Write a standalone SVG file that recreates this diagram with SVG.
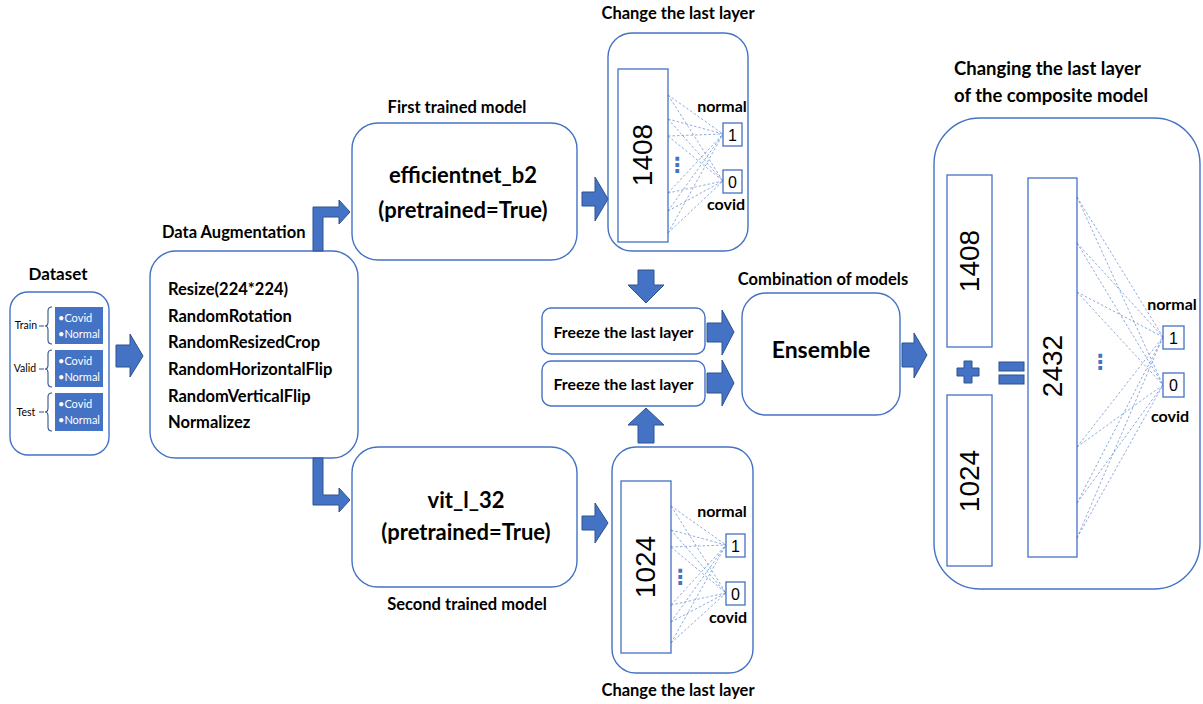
<svg xmlns="http://www.w3.org/2000/svg" width="1203" height="704" viewBox="0 0 1203 704">
  <defs>
    <style>
      .box { fill: #ffffff; stroke: #4472C4; stroke-width: 1.4; }
      .rect { fill: #ffffff; stroke: #4472C4; stroke-width: 1.3; }
      .arrow { fill: #4472C4; stroke: #2F528F; stroke-width: 1; }
      .link { stroke: #4472C4; stroke-width: 0.7; stroke-dasharray: 2.5 2; fill: none; opacity: 0.85; }
      .brace { stroke: #2F528F; stroke-width: 1.1; fill: none; }
      .t { font-family: Lato, "Liberation Sans", sans-serif; font-weight: bold; fill: #000000; }
      .num { font-family: "Liberation Sans", Arial, sans-serif; fill: #000000; }
      .dots { font-family: "DejaVu Sans", sans-serif; font-weight: bold; fill: #4472C4; }
      .wh { font-family: Lato, "Liberation Sans", sans-serif; fill: #ffffff; font-size: 11px; }
      .lbl { font-family: Lato, "Liberation Sans", sans-serif; fill: #000000; font-size: 10.5px; }
    </style>
  </defs>

  <rect width="1203" height="704" fill="#ffffff"/>

  <!-- Dataset -->
  <g id="dataset">
    <text class="t" x="58" y="280" font-size="17" text-anchor="middle">Dataset</text>
    <rect class="box" x="10" y="292" width="99" height="163" rx="18"/>
    <rect x="55" y="307" width="48" height="37" fill="#4472C4"/>
    <rect x="55" y="350" width="48" height="37" fill="#4472C4"/>
    <rect x="55" y="393" width="48" height="38" fill="#4472C4"/>
    <text class="wh" x="58" y="322">•Covid</text>
    <text class="wh" x="58" y="338">•Normal</text>
    <text class="wh" x="58" y="365">•Covid</text>
    <text class="wh" x="58" y="381">•Normal</text>
    <text class="wh" x="58" y="408">•Covid</text>
    <text class="wh" x="58" y="424">•Normal</text>
    <text class="lbl" x="26" y="329" text-anchor="middle">Train</text>
    <text class="lbl" x="25" y="372" text-anchor="middle">Valid</text>
    <text class="lbl" x="26" y="416" text-anchor="middle">Test</text>
    <path class="brace" d="M39 326 H44 M52 307 Q48 307 48 311 V322 Q48 326 45 326 Q48 326 48 330 V340 Q48 344 52 344"/>
    <path class="brace" d="M39 369 H44 M52 350 Q48 350 48 354 V365 Q48 369 45 369 Q48 369 48 373 V383 Q48 387 52 387"/>
    <path class="brace" d="M39 412 H44 M52 393 Q48 393 48 397 V408 Q48 412 45 412 Q48 412 48 416 V427 Q48 431 52 431"/>
  </g>

  <!-- Data augmentation -->
  <g id="augmentation">
    <text class="t" x="162" y="238" font-size="16.5">Data Augmentation</text>
    <rect class="box" x="150" y="251" width="208" height="207" rx="26"/>
    <text class="t" x="168" y="295" font-size="16.5">Resize(224*224)</text>
    <text class="t" x="168" y="322" font-size="16.5">RandomRotation</text>
    <text class="t" x="168" y="348" font-size="16.5">RandomResizedCrop</text>
    <text class="t" x="168" y="375" font-size="16.5">RandomHorizontalFlip</text>
    <text class="t" x="168" y="402" font-size="16.5">RandomVerticalFlip</text>
    <text class="t" x="168" y="428" font-size="16.5">Normalizez</text>
  </g>

  <!-- First model -->
  <g id="efficientnet">
    <text class="t" x="457" y="113" font-size="16.5" text-anchor="middle">First trained model</text>
    <rect class="box" x="352" y="123" width="225" height="137" rx="26"/>
    <text class="t" x="463" y="183" font-size="22" text-anchor="middle">efficientnet_b2</text>
    <text class="t" x="463" y="218" font-size="22" text-anchor="middle">(pretrained=True)</text>
  </g>

  <!-- Second model -->
  <g id="vit">
    <rect class="box" x="352" y="447" width="225" height="140" rx="26"/>
    <text class="t" x="466" y="508" font-size="22" text-anchor="middle">vit_l_32</text>
    <text class="t" x="466" y="540" font-size="22" text-anchor="middle">(pretrained=True)</text>
    <text class="t" x="467" y="610" font-size="16.5" text-anchor="middle">Second trained model</text>
  </g>

  <!-- Last layer of the first model -->
  <g id="head-top">
    <text class="t" x="678" y="19" font-size="16.5" text-anchor="middle">Change the last layer</text>
    <rect class="box" x="608" y="33" width="140" height="218" rx="24"/>
    <rect class="rect" x="618" y="69" width="50" height="173"/>
    <text class="num" transform="translate(652 155) rotate(-90)" font-size="28" text-anchor="middle">1408</text>
    <text class="dots" x="677" y="172" font-size="21" text-anchor="middle">⋮</text>
    <text class="t" x="722" y="112" font-size="16" text-anchor="middle">normal</text>
    <rect class="rect" x="723" y="123" width="19" height="23"/>
    <text class="num" x="732.5" y="141" font-size="16" text-anchor="middle">1</text>
    <rect class="rect" x="723" y="170" width="19" height="23"/>
    <text class="num" x="732.5" y="188" font-size="16" text-anchor="middle">0</text>
    <text class="t" x="726" y="210" font-size="16" text-anchor="middle">covid</text>
  </g>

  <!-- Last layer of the second model -->
  <g id="head-bottom">
    <rect class="box" x="612" y="447" width="141" height="226" rx="24"/>
    <rect class="rect" x="621" y="481" width="50" height="172"/>
    <text class="num" transform="translate(655 567) rotate(-90)" font-size="28" text-anchor="middle">1024</text>
    <text class="dots" x="680" y="584" font-size="21" text-anchor="middle">⋮</text>
    <text class="t" x="722" y="517" font-size="16" text-anchor="middle">normal</text>
    <rect class="rect" x="726" y="534" width="19" height="23"/>
    <text class="num" x="735.5" y="552" font-size="16" text-anchor="middle">1</text>
    <rect class="rect" x="726" y="582" width="19" height="23"/>
    <text class="num" x="735.5" y="600" font-size="16" text-anchor="middle">0</text>
    <text class="t" x="728" y="623" font-size="16" text-anchor="middle">covid</text>
    <text class="t" x="678" y="696" font-size="16.5" text-anchor="middle">Change the last layer</text>
  </g>

  <!-- Frozen layers -->
  <g id="freeze-1">
    <rect class="box" x="542" y="308" width="163" height="46" rx="9"/>
    <text class="t" x="623.5" y="338" font-size="15.8" text-anchor="middle">Freeze the last layer</text>
  </g>
  <g id="freeze-2">
    <rect class="box" x="542" y="361" width="163" height="45" rx="9"/>
    <text class="t" x="623.5" y="390" font-size="15.8" text-anchor="middle">Freeze the last layer</text>
  </g>

  <!-- Ensemble -->
  <g id="ensemble">
    <text class="t" x="823" y="285" font-size="16.5" text-anchor="middle">Combination of models</text>
    <rect class="box" x="742" y="293" width="158" height="122" rx="24"/>
    <text class="t" x="821" y="358" font-size="23" text-anchor="middle">Ensemble</text>
  </g>

  <!-- Composite model -->
  <g id="composite">
    <text class="t" x="954" y="75" font-size="18.5">Changing the last layer</text>
    <text class="t" x="954" y="102" font-size="18.5">of the composite model</text>
    <rect class="box" x="934" y="118" width="266" height="471" rx="46"/>
    <rect class="rect" x="947" y="175" width="45" height="172"/>
    <text class="num" transform="translate(979 261) rotate(-90)" font-size="28" text-anchor="middle">1408</text>
    <rect class="rect" x="947" y="395" width="45" height="171"/>
    <text class="num" transform="translate(979 481) rotate(-90)" font-size="28" text-anchor="middle">1024</text>
    <path class="arrow" d="M964 361 H972 V368 H979 V376 H972 V383 H964 V376 H957 V368 H964 Z"/>
    <rect class="arrow" x="999" y="362" width="25" height="9"/>
    <rect class="arrow" x="999" y="375" width="25" height="9"/>
    <rect class="rect" x="1028" y="178" width="49" height="379"/>
    <text class="num" transform="translate(1062 366) rotate(-90)" font-size="28" text-anchor="middle">2432</text>
    <text class="dots" x="1100" y="369" font-size="21" text-anchor="middle">⋮</text>
    <text class="t" x="1172" y="310" font-size="16" text-anchor="middle">normal</text>
    <rect class="rect" x="1163" y="326" width="21" height="23"/>
    <text class="num" x="1173.5" y="344" font-size="16" text-anchor="middle">1</text>
    <rect class="rect" x="1163" y="373" width="21" height="24"/>
    <text class="num" x="1173.5" y="391" font-size="16" text-anchor="middle">0</text>
    <text class="t" x="1170" y="422" font-size="16" text-anchor="middle">covid</text>
  </g>

  <!-- Connectors -->
  <g id="connectors">
    <!-- dataset to augmentation -->
    <path class="arrow" d="M116 345 H130 V334 L143 356 L130 377 V367 H116 Z"/>
    <!-- augmentation to first model (elbow up) -->
    <path class="arrow" d="M313 251 V207 H339 V200 L350 212 L339 224 V217 H323 V251 Z"/>
    <!-- augmentation to second model (elbow down) -->
    <path class="arrow" d="M313 458 V505 H339 V512 L350 500 L339 488 V495 H323 V458 Z"/>
    <!-- models to last layers -->
    <path class="arrow" d="M582 192 H595 V177 L608 199 L595 221 V206 H582 Z"/>
    <path class="arrow" d="M582 516 H595 V503 L608 523 L595 543 V530 H582 Z"/>
    <!-- last layers to freeze -->
    <path class="arrow" d="M638 270 H654 V285 H664 L646 303 L628 285 H638 Z"/>
    <path class="arrow" d="M638 443 H654 V425 H664 L646 408 L628 425 H638 Z"/>
    <!-- freeze to ensemble -->
    <path class="arrow" d="M707 323 H722 V310 L734 332 L722 355 V342 H707 Z"/>
    <path class="arrow" d="M707 373 H722 V360 L734 383 L722 406 V393 H707 Z"/>
    <!-- ensemble to composite -->
    <path class="arrow" d="M902 343 H914 V333 L927 355 L914 378 V367 H902 Z"/>

    <!-- dense links, first head -->
    <path class="link" d="M668 95 L723 134 M668 95 L723 181 M668 119 L723 134 M668 119 L723 181 M668 136 L723 134 M668 136 L723 181 M668 193 L723 134 M668 193 L723 181 M668 211 L723 134 M668 211 L723 181 M668 233 L723 134 M668 233 L723 181"/>
    <!-- dense links, second head -->
    <path class="link" d="M671 506 L726 545 M671 506 L726 593 M671 530 L726 545 M671 530 L726 593 M671 547 L726 545 M671 547 L726 593 M671 605 L726 545 M671 605 L726 593 M671 622 L726 545 M671 622 L726 593 M671 643 L726 545 M671 643 L726 593"/>
    <!-- dense links, composite head -->
    <path class="link" d="M1077 197 L1163 337 M1077 197 L1163 385 M1077 243 L1163 337 M1077 243 L1163 385 M1077 292 L1163 337 M1077 292 L1163 385 M1077 447 L1163 337 M1077 447 L1163 385 M1077 503 L1163 337 M1077 503 L1163 385 M1077 538 L1163 337 M1077 538 L1163 385"/>
  </g>
</svg>
